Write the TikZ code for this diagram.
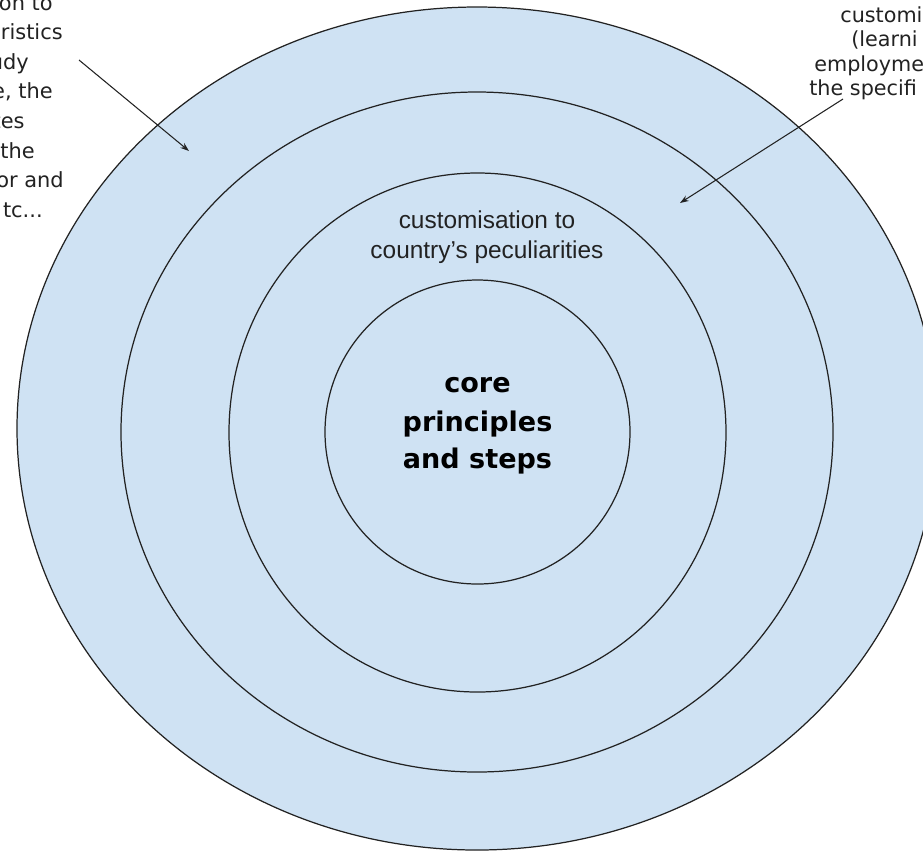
\documentclass[tikz,border=0pt]{standalone}
\usepackage{fontspec}
\newfontfamily\notefont{DejaVu Sans}
\newfontfamily\ringfont{Liberation Sans}
\usetikzlibrary{arrows.meta}
\definecolor{ringblue}{HTML}{CFE2F3}
\definecolor{inkgrey}{HTML}{222222}
\tikzset{
  ring/.style={draw=inkgrey, fill=ringblue, line width=0.7pt},
  leftnote/.style={anchor=base east, inner sep=0pt, text=inkgrey,
    font=\notefont\fontsize{11.9}{16.8}\selectfont},
  rightnote/.style={anchor=base west, inner sep=0pt, text=inkgrey,
    font=\notefont\fontsize{11.8}{14}\selectfont},
  ringlabel/.style={anchor=base, inner sep=0pt, text=inkgrey,
    font=\ringfont\fontsize{13.9}{17}\selectfont},
  corelabel/.style={anchor=base, inner sep=0pt, text=black,
    font=\notefont\bfseries\fontsize{15.4}{21.6}\selectfont},
  pointer/.style={-{Stealth[length=5pt,width=3.5pt]}, draw=inkgrey, line width=0.6pt}
}
\begin{document}
\begin{tikzpicture}[x=0.02cm, y=-0.02cm]
            \useasboundingbox (0,0) rectangle (923,850);
            \clip (0,0) rectangle (923,850);
            \fill[white] (0,0) rectangle (923,850);
            % the four rings, outside in
            \draw[ring] (477,428.5) ellipse (460 and 421.5);
            \draw[ring] (477,432) ellipse (356 and 340);
            \draw[ring] (477.5,432.5) ellipse (248.5 and 259.5);
            \draw[ring] (477.5,432) ellipse (152.5 and 152);
            \begin{scope}
                \path (53,10) node[leftnote] (l1) {on to}
                    (63,39.6) node[leftnote] (l2) {ristics}
                    (29,69.2) node[leftnote] (l3) {udy}
                    (53,98.8) node[leftnote] (l4) {e, the}
                    (25,128.4) node[leftnote] (l5) {tes}
                    (35,158) node[leftnote] (l6) {the}
                    (64,187.6) node[leftnote] (l7) {or and}
                    (43,217.2) node[leftnote] (l8) {tc...};
            \end{scope}
            \begin{scope}
                \path (840,22) node[rightnote] (r1) {customi}
                    (851,46.5) node[rightnote] (r2) {(learni}
                    (814,71) node[rightnote] (r3) {employme}
                    (809,95.5) node[rightnote] (r4) {the specifi};
            \end{scope}
            \draw (487,228) node[ringlabel] (c1) {customisation to}
                ++(0,30) node[ringlabel] (c2) {country’s peculiarities};
            \draw (477.5,392) node[corelabel] (k1) {core}
                ++(0,39) node[corelabel] (k2) {principles}
                ++(0,37) node[corelabel] (k3) {and steps};
            \coordinate (lfrom) at (79,60);
            \coordinate (lto) at (189,151);
            \coordinate (rfrom) at (843,99);
            \coordinate (rto) at (680,203);
            \draw[pointer] (lfrom) -- (lto);
            \draw[pointer] (rfrom) -- (rto);
        \end{tikzpicture}
\end{document}
